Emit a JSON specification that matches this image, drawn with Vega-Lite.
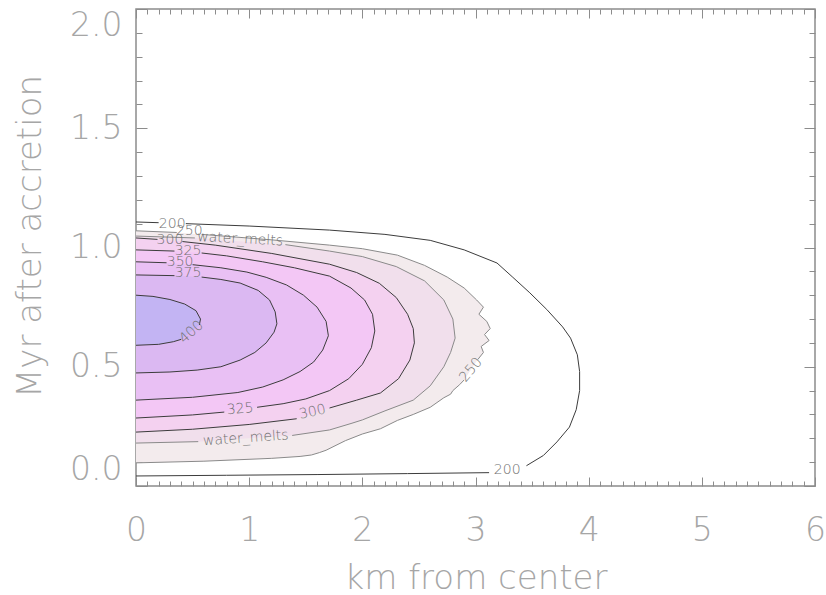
{
  "$schema": "https://vega.github.io/schema/vega-lite/v6.json",
  "width": 679,
  "height": 477,
  "autosize": "none",
  "padding": {"left": 136, "top": 9, "right": 11, "bottom": 109},
  "background": "white",
  "config": {
    "view": {"stroke": "#8c8c8c", "strokeWidth": 1.5},
    "axis": {
      "domain": false,
      "grid": false,
      "labelFont": "DejaVu Sans",
      "labelFontWeight": 200,
      "labelFontSize": 33,
      "labelColor": "#a6a6a6",
      "titleFont": "DejaVu Sans",
      "titleFontWeight": 200,
      "titleFontSize": 34,
      "titleColor": "#a6a6a6",
      "tickColor": "#8c8c8c",
      "tickWidth": 1,
      "labelOverlap": false
    },
    "text": {"font": "DejaVu Sans", "fontWeight": 200, "fontSize": 14, "fill": "#707070"}
  },
  "datasets": {
    "contours": [
      {"lev": 200, "seg": 0, "x": 0, "y": 0.042}, {"lev": 200, "seg": 0, "x": 0.8, "y": 0.045}, {"lev": 200, "seg": 0, "x": 1.6, "y": 0.048}, {"lev": 200, "seg": 0, "x": 2.4, "y": 0.052}, {"lev": 200, "seg": 0, "x": 3.12, "y": 0.056},
      {"lev": 200, "seg": 1, "x": 3.45, "y": 0.085}, {"lev": 200, "seg": 1, "x": 3.6, "y": 0.128}, {"lev": 200, "seg": 1, "x": 3.72, "y": 0.185}, {"lev": 200, "seg": 1, "x": 3.83, "y": 0.247}, {"lev": 200, "seg": 1, "x": 3.89, "y": 0.32}, {"lev": 200, "seg": 1, "x": 3.92, "y": 0.4}, {"lev": 200, "seg": 1, "x": 3.92, "y": 0.48}, {"lev": 200, "seg": 1, "x": 3.9, "y": 0.55}, {"lev": 200, "seg": 1, "x": 3.84, "y": 0.62}, {"lev": 200, "seg": 1, "x": 3.77, "y": 0.667}, {"lev": 200, "seg": 1, "x": 3.63, "y": 0.74}, {"lev": 200, "seg": 1, "x": 3.48, "y": 0.81}, {"lev": 200, "seg": 1, "x": 3.33, "y": 0.875}, {"lev": 200, "seg": 1, "x": 3.19, "y": 0.935}, {"lev": 200, "seg": 1, "x": 2.9, "y": 0.99}, {"lev": 200, "seg": 1, "x": 2.6, "y": 1.03}, {"lev": 200, "seg": 1, "x": 2.2, "y": 1.055}, {"lev": 200, "seg": 1, "x": 1.71, "y": 1.073}, {"lev": 200, "seg": 1, "x": 1.0, "y": 1.09}, {"lev": 200, "seg": 1, "x": 0.44, "y": 1.1},
      {"lev": 200, "seg": 2, "x": 0.2, "y": 1.104}, {"lev": 200, "seg": 2, "x": 0, "y": 1.107},

      {"lev": 250, "seg": 0, "x": 0, "y": 0.097}, {"lev": 250, "seg": 0, "x": 0.6, "y": 0.104}, {"lev": 250, "seg": 0, "x": 1.2, "y": 0.116}, {"lev": 250, "seg": 0, "x": 1.45, "y": 0.124}, {"lev": 250, "seg": 0, "x": 1.55, "y": 0.13}, {"lev": 250, "seg": 0, "x": 1.62, "y": 0.14}, {"lev": 250, "seg": 0, "x": 1.68, "y": 0.15}, {"lev": 250, "seg": 0, "x": 1.85, "y": 0.19}, {"lev": 250, "seg": 0, "x": 2.0, "y": 0.218}, {"lev": 250, "seg": 0, "x": 2.16, "y": 0.24}, {"lev": 250, "seg": 0, "x": 2.31, "y": 0.275}, {"lev": 250, "seg": 0, "x": 2.45, "y": 0.3}, {"lev": 250, "seg": 0, "x": 2.6, "y": 0.33}, {"lev": 250, "seg": 0, "x": 2.72, "y": 0.37}, {"lev": 250, "seg": 0, "x": 2.78, "y": 0.385}, {"lev": 250, "seg": 0, "x": 2.8, "y": 0.4}, {"lev": 250, "seg": 0, "x": 2.86, "y": 0.425}, {"lev": 250, "seg": 0, "x": 2.9, "y": 0.445},
      {"lev": 250, "seg": 1, "x": 3.02, "y": 0.53}, {"lev": 250, "seg": 1, "x": 3.07, "y": 0.56}, {"lev": 250, "seg": 1, "x": 3.05, "y": 0.585}, {"lev": 250, "seg": 1, "x": 3.12, "y": 0.61}, {"lev": 250, "seg": 1, "x": 3.08, "y": 0.635}, {"lev": 250, "seg": 1, "x": 3.13, "y": 0.66}, {"lev": 250, "seg": 1, "x": 3.1, "y": 0.69}, {"lev": 250, "seg": 1, "x": 3.03, "y": 0.72}, {"lev": 250, "seg": 1, "x": 3.07, "y": 0.75}, {"lev": 250, "seg": 1, "x": 3.01, "y": 0.78}, {"lev": 250, "seg": 1, "x": 2.9, "y": 0.83}, {"lev": 250, "seg": 1, "x": 2.75, "y": 0.876}, {"lev": 250, "seg": 1, "x": 2.55, "y": 0.925}, {"lev": 250, "seg": 1, "x": 2.31, "y": 0.968}, {"lev": 250, "seg": 1, "x": 2.0, "y": 0.995}, {"lev": 250, "seg": 1, "x": 1.71, "y": 1.01}, {"lev": 250, "seg": 1, "x": 1.2, "y": 1.032}, {"lev": 250, "seg": 1, "x": 0.58, "y": 1.055},
      {"lev": 250, "seg": 2, "x": 0.36, "y": 1.063}, {"lev": 250, "seg": 2, "x": 0, "y": 1.07},

      {"lev": 273, "seg": 0, "x": 0, "y": 0.18}, {"lev": 273, "seg": 0, "x": 0.55, "y": 0.186},
      {"lev": 273, "seg": 1, "x": 1.38, "y": 0.212}, {"lev": 273, "seg": 1, "x": 1.71, "y": 0.235}, {"lev": 273, "seg": 1, "x": 1.9, "y": 0.262}, {"lev": 273, "seg": 1, "x": 2.0, "y": 0.277}, {"lev": 273, "seg": 1, "x": 2.2, "y": 0.315}, {"lev": 273, "seg": 1, "x": 2.45, "y": 0.36}, {"lev": 273, "seg": 1, "x": 2.6, "y": 0.42}, {"lev": 273, "seg": 1, "x": 2.72, "y": 0.5}, {"lev": 273, "seg": 1, "x": 2.78, "y": 0.56}, {"lev": 273, "seg": 1, "x": 2.82, "y": 0.62}, {"lev": 273, "seg": 1, "x": 2.8, "y": 0.7}, {"lev": 273, "seg": 1, "x": 2.72, "y": 0.78}, {"lev": 273, "seg": 1, "x": 2.55, "y": 0.86}, {"lev": 273, "seg": 1, "x": 2.3, "y": 0.92}, {"lev": 273, "seg": 1, "x": 2.0, "y": 0.962}, {"lev": 273, "seg": 1, "x": 1.71, "y": 0.985}, {"lev": 273, "seg": 1, "x": 1.32, "y": 1.012},
      {"lev": 273, "seg": 2, "x": 0.52, "y": 1.04}, {"lev": 273, "seg": 2, "x": 0, "y": 1.048},

      {"lev": 300, "seg": 0, "x": 0, "y": 0.226}, {"lev": 300, "seg": 0, "x": 0.5, "y": 0.238}, {"lev": 300, "seg": 0, "x": 1.0, "y": 0.258}, {"lev": 300, "seg": 0, "x": 1.42, "y": 0.282},
      {"lev": 300, "seg": 1, "x": 1.71, "y": 0.327}, {"lev": 300, "seg": 1, "x": 1.95, "y": 0.36}, {"lev": 300, "seg": 1, "x": 2.16, "y": 0.39}, {"lev": 300, "seg": 1, "x": 2.32, "y": 0.45}, {"lev": 300, "seg": 1, "x": 2.42, "y": 0.528}, {"lev": 300, "seg": 1, "x": 2.46, "y": 0.6}, {"lev": 300, "seg": 1, "x": 2.45, "y": 0.66}, {"lev": 300, "seg": 1, "x": 2.4, "y": 0.72}, {"lev": 300, "seg": 1, "x": 2.3, "y": 0.79}, {"lev": 300, "seg": 1, "x": 2.15, "y": 0.85}, {"lev": 300, "seg": 1, "x": 1.95, "y": 0.895}, {"lev": 300, "seg": 1, "x": 1.71, "y": 0.93}, {"lev": 300, "seg": 1, "x": 1.2, "y": 0.975}, {"lev": 300, "seg": 1, "x": 0.7, "y": 1.01}, {"lev": 300, "seg": 1, "x": 0.41, "y": 1.025},
      {"lev": 300, "seg": 2, "x": 0.19, "y": 1.034}, {"lev": 300, "seg": 2, "x": 0, "y": 1.04},

      {"lev": 325, "seg": 0, "x": 0, "y": 0.285}, {"lev": 325, "seg": 0, "x": 0.5, "y": 0.298}, {"lev": 325, "seg": 0, "x": 0.78, "y": 0.31},
      {"lev": 325, "seg": 1, "x": 1.07, "y": 0.33}, {"lev": 325, "seg": 1, "x": 1.3, "y": 0.345}, {"lev": 325, "seg": 1, "x": 1.5, "y": 0.365}, {"lev": 325, "seg": 1, "x": 1.71, "y": 0.4}, {"lev": 325, "seg": 1, "x": 1.88, "y": 0.45}, {"lev": 325, "seg": 1, "x": 2.0, "y": 0.51}, {"lev": 325, "seg": 1, "x": 2.08, "y": 0.58}, {"lev": 325, "seg": 1, "x": 2.11, "y": 0.65}, {"lev": 325, "seg": 1, "x": 2.09, "y": 0.72}, {"lev": 325, "seg": 1, "x": 2.02, "y": 0.78}, {"lev": 325, "seg": 1, "x": 1.9, "y": 0.83}, {"lev": 325, "seg": 1, "x": 1.71, "y": 0.88}, {"lev": 325, "seg": 1, "x": 1.4, "y": 0.915}, {"lev": 325, "seg": 1, "x": 1.12, "y": 0.94}, {"lev": 325, "seg": 1, "x": 0.8, "y": 0.965}, {"lev": 325, "seg": 1, "x": 0.58, "y": 0.977},
      {"lev": 325, "seg": 2, "x": 0.34, "y": 0.985}, {"lev": 325, "seg": 2, "x": 0, "y": 0.99},

      {"lev": 350, "seg": 0, "x": 0, "y": 0.36}, {"lev": 350, "seg": 0, "x": 0.5, "y": 0.372}, {"lev": 350, "seg": 0, "x": 0.9, "y": 0.392}, {"lev": 350, "seg": 0, "x": 1.12, "y": 0.415}, {"lev": 350, "seg": 0, "x": 1.3, "y": 0.445}, {"lev": 350, "seg": 0, "x": 1.45, "y": 0.48}, {"lev": 350, "seg": 0, "x": 1.57, "y": 0.52}, {"lev": 350, "seg": 0, "x": 1.65, "y": 0.57}, {"lev": 350, "seg": 0, "x": 1.7, "y": 0.63}, {"lev": 350, "seg": 0, "x": 1.68, "y": 0.69}, {"lev": 350, "seg": 0, "x": 1.6, "y": 0.75}, {"lev": 350, "seg": 0, "x": 1.48, "y": 0.8}, {"lev": 350, "seg": 0, "x": 1.33, "y": 0.843}, {"lev": 350, "seg": 0, "x": 1.15, "y": 0.875}, {"lev": 350, "seg": 0, "x": 0.98, "y": 0.897}, {"lev": 350, "seg": 0, "x": 0.75, "y": 0.915}, {"lev": 350, "seg": 0, "x": 0.5, "y": 0.928},
      {"lev": 350, "seg": 1, "x": 0.27, "y": 0.936}, {"lev": 350, "seg": 1, "x": 0, "y": 0.94},

      {"lev": 375, "seg": 0, "x": 0, "y": 0.474}, {"lev": 375, "seg": 0, "x": 0.3, "y": 0.478}, {"lev": 375, "seg": 0, "x": 0.54, "y": 0.486}, {"lev": 375, "seg": 0, "x": 0.75, "y": 0.5}, {"lev": 375, "seg": 0, "x": 0.92, "y": 0.528}, {"lev": 375, "seg": 0, "x": 1.05, "y": 0.56}, {"lev": 375, "seg": 0, "x": 1.15, "y": 0.6}, {"lev": 375, "seg": 0, "x": 1.22, "y": 0.645}, {"lev": 375, "seg": 0, "x": 1.245, "y": 0.68}, {"lev": 375, "seg": 0, "x": 1.23, "y": 0.73}, {"lev": 375, "seg": 0, "x": 1.18, "y": 0.78}, {"lev": 375, "seg": 0, "x": 1.08, "y": 0.82}, {"lev": 375, "seg": 0, "x": 0.92, "y": 0.851}, {"lev": 375, "seg": 0, "x": 0.75, "y": 0.866}, {"lev": 375, "seg": 0, "x": 0.58, "y": 0.876},
      {"lev": 375, "seg": 1, "x": 0.34, "y": 0.882}, {"lev": 375, "seg": 1, "x": 0, "y": 0.885},

      {"lev": 400, "seg": 0, "x": 0, "y": 0.59}, {"lev": 400, "seg": 0, "x": 0.2, "y": 0.594}, {"lev": 400, "seg": 0, "x": 0.33, "y": 0.605}, {"lev": 400, "seg": 0, "x": 0.4, "y": 0.615},
      {"lev": 400, "seg": 1, "x": 0.56, "y": 0.675}, {"lev": 400, "seg": 1, "x": 0.57, "y": 0.7}, {"lev": 400, "seg": 1, "x": 0.53, "y": 0.735}, {"lev": 400, "seg": 1, "x": 0.43, "y": 0.763}, {"lev": 400, "seg": 1, "x": 0.3, "y": 0.782}, {"lev": 400, "seg": 1, "x": 0.15, "y": 0.795}, {"lev": 400, "seg": 1, "x": 0, "y": 0.8}
    ],
    "labels": [
      {"t": "200", "side": "top", "x": 0.32, "y": 1.1},
      {"t": "250", "side": "top", "x": 0.47, "y": 1.07},
      {"t": "water_melts", "side": "top", "x": 0.92, "y": 1.035},
      {"t": "300", "side": "top", "x": 0.3, "y": 1.03},
      {"t": "325", "side": "top", "x": 0.46, "y": 0.985},
      {"t": "350", "side": "top", "x": 0.39, "y": 0.938},
      {"t": "375", "side": "top", "x": 0.46, "y": 0.893},
      {"t": "400", "side": "top", "x": 0.49, "y": 0.645},
      {"t": "325", "side": "bottom", "x": 0.92, "y": 0.322},
      {"t": "300", "side": "bottom", "x": 1.56, "y": 0.31},
      {"t": "water_melts", "side": "bottom", "x": 0.97, "y": 0.2},
      {"t": "250", "side": "bottom", "x": 2.96, "y": 0.487},
      {"t": "200", "side": "bottom", "x": 3.28, "y": 0.067}
    ]
  },
  "encoding": {
    "x": {"field": "x", "type": "quantitative", "scale": {"domain": [0, 6], "nice": false, "zero": false}, "axis": null},
    "y": {"field": "y", "type": "quantitative", "scale": {"domain": [0, 2], "nice": false, "zero": false}, "axis": null}
  },
  "resolve": {"axis": {"x": "independent", "y": "independent"}},
  "layer": [
    {
      "data": {"name": "contours"},
      "transform": [{"filter": "datum.lev === 250"}],
      "mark": {"type": "line", "fill": "#f3ebed", "strokeOpacity": 0},
      "encoding": {
        "y": {"field": "y", "type": "quantitative", "scale": {"domain": [0, 2], "nice": false, "zero": false},
          "axis": {"orient": "left", "values": [0, 0.5, 1, 1.5, 2], "format": ".1f", "tickSize": -11, "labelPadding": 25, "labelFlush": true, "title": "Myr after accretion", "titlePadding": 22, "titleY": 227}},
        "x": {"field": "x", "type": "quantitative", "scale": {"domain": [0, 6], "nice": false, "zero": false},
          "axis": {"orient": "bottom", "values": [0, 1, 2, 3, 4, 5, 6], "format": "d", "tickSize": -9, "labelPadding": 37, "labelFlush": false, "title": "km from center", "titlePadding": 14}},
        "order": {"field": "y", "type": "quantitative"}
      }
    },
    {
      "data": {"name": "contours"},
      "transform": [{"filter": "datum.lev === 273"}],
      "mark": {"type": "line", "fill": "#f1dfec", "strokeOpacity": 0},
      "encoding": {"order": {"field": "y", "type": "quantitative"}}
    },
    {
      "data": {"name": "contours"},
      "transform": [{"filter": "datum.lev === 300"}],
      "mark": {"type": "line", "fill": "#f4d1f0", "strokeOpacity": 0},
      "encoding": {"order": {"field": "y", "type": "quantitative"}}
    },
    {
      "data": {"name": "contours"},
      "transform": [{"filter": "datum.lev === 325"}],
      "mark": {"type": "line", "fill": "#f3c7f5", "strokeOpacity": 0},
      "encoding": {"order": {"field": "y", "type": "quantitative"}}
    },
    {
      "data": {"name": "contours"},
      "transform": [{"filter": "datum.lev === 350"}],
      "mark": {"type": "line", "fill": "#e9c0f4", "strokeOpacity": 0},
      "encoding": {"order": {"field": "y", "type": "quantitative"}}
    },
    {
      "data": {"name": "contours"},
      "transform": [{"filter": "datum.lev === 375"}],
      "mark": {"type": "line", "fill": "#dbb8f2", "strokeOpacity": 0},
      "encoding": {"order": {"field": "y", "type": "quantitative"}}
    },
    {
      "data": {"name": "contours"},
      "transform": [{"filter": "datum.lev === 400"}],
      "mark": {"type": "line", "fill": "#c3b4f3", "strokeOpacity": 0},
      "encoding": {"order": {"field": "y", "type": "quantitative"}}
    },
    {
      "data": {"name": "contours"},
      "mark": {"type": "line", "strokeWidth": 1},
      "encoding": {
        "y": {"field": "y", "type": "quantitative", "scale": {"domain": [0, 2], "nice": false, "zero": false},
          "axis": {"orient": "right", "values": [0, 0.5, 1, 1.5, 2], "tickSize": -11, "labels": false, "title": null}},
        "x": {"field": "x", "type": "quantitative", "scale": {"domain": [0, 6], "nice": false, "zero": false},
          "axis": {"orient": "top", "values": [0, 1, 2, 3, 4, 5, 6], "tickSize": -9, "labels": false, "title": null}},
        "detail": [{"field": "lev"}, {"field": "seg"}],
        "order": {"field": "y", "type": "quantitative"},
        "stroke": {"condition": {"test": "datum.lev === 250 || datum.lev === 273", "value": "#8a8a8a"}, "value": "#3c3c3c"}
      }
    },
    {
      "data": {"name": "labels"},
      "transform": [{"filter": "(datum.side === 'top' && datum.t !== 'water_melts' && datum.t !== '400') || (datum.side === 'bottom' && datum.t === '200')"}],
      "mark": {"type": "text"},
      "encoding": {
        "y": {"field": "y", "type": "quantitative", "scale": {"domain": [0, 2], "nice": false, "zero": false},
          "axis": {"orient": "left", "values": [0.1, 0.2, 0.3, 0.4, 0.6, 0.7, 0.8, 0.9, 1.1, 1.2, 1.3, 1.4, 1.6, 1.7, 1.8, 1.9], "tickSize": -6, "labels": false, "title": null}},
        "x": {"field": "x", "type": "quantitative", "scale": {"domain": [0, 6], "nice": false, "zero": false},
          "axis": {"orient": "bottom", "values": [0.1, 0.2, 0.3, 0.4, 0.5, 0.6, 0.7, 0.8, 0.9, 1.1, 1.2, 1.3, 1.4, 1.5, 1.6, 1.7, 1.8, 1.9, 2.1, 2.2, 2.3, 2.4, 2.5, 2.6, 2.7, 2.8, 2.9, 3.1, 3.2, 3.3, 3.4, 3.5, 3.6, 3.7, 3.8, 3.9, 4.1, 4.2, 4.3, 4.4, 4.5, 4.6, 4.7, 4.8, 4.9, 5.1, 5.2, 5.3, 5.4, 5.5, 5.6, 5.7, 5.8, 5.9], "tickSize": -5, "labels": false, "title": null}},
        "text": {"field": "t"}
      }
    },
    {
      "data": {"name": "labels"},
      "transform": [{"filter": "datum.side === 'top' && datum.t === 'water_melts'"}],
      "mark": {"type": "text", "angle": 3},
      "encoding": {
        "y": {"field": "y", "type": "quantitative", "scale": {"domain": [0, 2], "nice": false, "zero": false},
          "axis": {"orient": "right", "values": [0.1, 0.2, 0.3, 0.4, 0.6, 0.7, 0.8, 0.9, 1.1, 1.2, 1.3, 1.4, 1.6, 1.7, 1.8, 1.9], "tickSize": -6, "labels": false, "title": null}},
        "x": {"field": "x", "type": "quantitative", "scale": {"domain": [0, 6], "nice": false, "zero": false},
          "axis": {"orient": "top", "values": [0.1, 0.2, 0.3, 0.4, 0.5, 0.6, 0.7, 0.8, 0.9, 1.1, 1.2, 1.3, 1.4, 1.5, 1.6, 1.7, 1.8, 1.9, 2.1, 2.2, 2.3, 2.4, 2.5, 2.6, 2.7, 2.8, 2.9, 3.1, 3.2, 3.3, 3.4, 3.5, 3.6, 3.7, 3.8, 3.9, 4.1, 4.2, 4.3, 4.4, 4.5, 4.6, 4.7, 4.8, 4.9, 5.1, 5.2, 5.3, 5.4, 5.5, 5.6, 5.7, 5.8, 5.9], "tickSize": -5, "labels": false, "title": null}},
        "text": {"field": "t"}
      }
    },
    {
      "data": {"name": "labels"},
      "transform": [{"filter": "datum.t === '400'"}],
      "mark": {"type": "text", "angle": -42},
      "encoding": {"text": {"field": "t"}}
    },
    {
      "data": {"name": "labels"},
      "transform": [{"filter": "datum.side === 'bottom' && datum.t === '250'"}],
      "mark": {"type": "text", "angle": -50},
      "encoding": {"text": {"field": "t"}}
    },
    {
      "data": {"name": "labels"},
      "transform": [{"filter": "datum.side === 'bottom' && datum.t === 'water_melts'"}],
      "mark": {"type": "text", "angle": -4},
      "encoding": {"text": {"field": "t"}}
    },
    {
      "data": {"name": "labels"},
      "transform": [{"filter": "datum.side === 'bottom' && datum.t === '300'"}],
      "mark": {"type": "text", "angle": -12},
      "encoding": {"text": {"field": "t"}}
    },
    {
      "data": {"name": "labels"},
      "transform": [{"filter": "datum.side === 'bottom' && datum.t === '325'"}],
      "mark": {"type": "text", "angle": -5},
      "encoding": {"text": {"field": "t"}}
    }
  ]
}
